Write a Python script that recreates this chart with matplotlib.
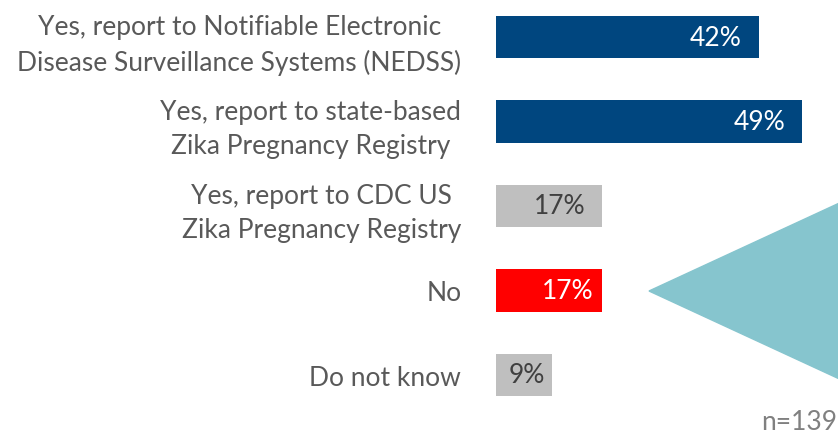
import matplotlib.pyplot as plt
from matplotlib.patches import Polygon

plt.rcParams['font.family'] = ['Lato', 'DejaVu Sans']

# Survey answers (top to bottom) and share of respondents, %
answers = [
    'Yes, report to Notifiable Electronic\nDisease Surveillance Systems (NEDSS)',
    'Yes, report to state-based\nZika Pregnancy Registry',
    'Yes, report to CDC US\nZika Pregnancy Registry',
    'No',
    'Do not know',
]
shares = [42, 49, 17, 17, 9]
sample_size = 139

bar_colors = ['#00467F', '#00467F', '#BFBFBF', '#FF0000', '#BFBFBF']
value_colors = ['white', 'white', '#404040', 'white', '#404040']
value_pads = [-12, -12, -12, -6, -5]   # points in from the bar end

fig = plt.figure(figsize=(8.38, 4.35), dpi=100)
ax = fig.add_axes([496 / 838, 0, 1 - 496 / 838, 1])

y = list(range(len(answers)))
ax.barh(y, shares, height=0.5, color=bar_colors)
ax.set_xlim(0, (838 - 496) / 6.25)
ax.set_ylim(4.70, -0.45)

ax.set_yticks(y)
ax.set_yticklabels(answers, fontsize=19, color='#595959',
                   multialignment='center', linespacing=1.45)
ax.tick_params(axis='y', length=0, pad=25)
ax.set_xticks([])
for s in ax.spines.values():
    s.set_visible(False)

# value labels inside the bar ends
for yi, v, c, p in zip(y, shares, value_colors, value_pads):
    ax.annotate(f'{v}%', (v, yi), xytext=(p, 0), textcoords='offset points',
                ha='right', va='center', fontsize=19, color=c)

# teal callout pointer on the right edge
tri = Polygon([(649, 435 - 292), (900, 435 - 176), (900, 435 - 408)],
              closed=True, color='#86C5CE', transform=None, zorder=0)
fig.patches.append(tri)

fig.text(0.999, 0.028, f'n={sample_size}', ha='right', va='center',
         fontsize=19, color='#808080')

fig.savefig('out.png', dpi=100)
